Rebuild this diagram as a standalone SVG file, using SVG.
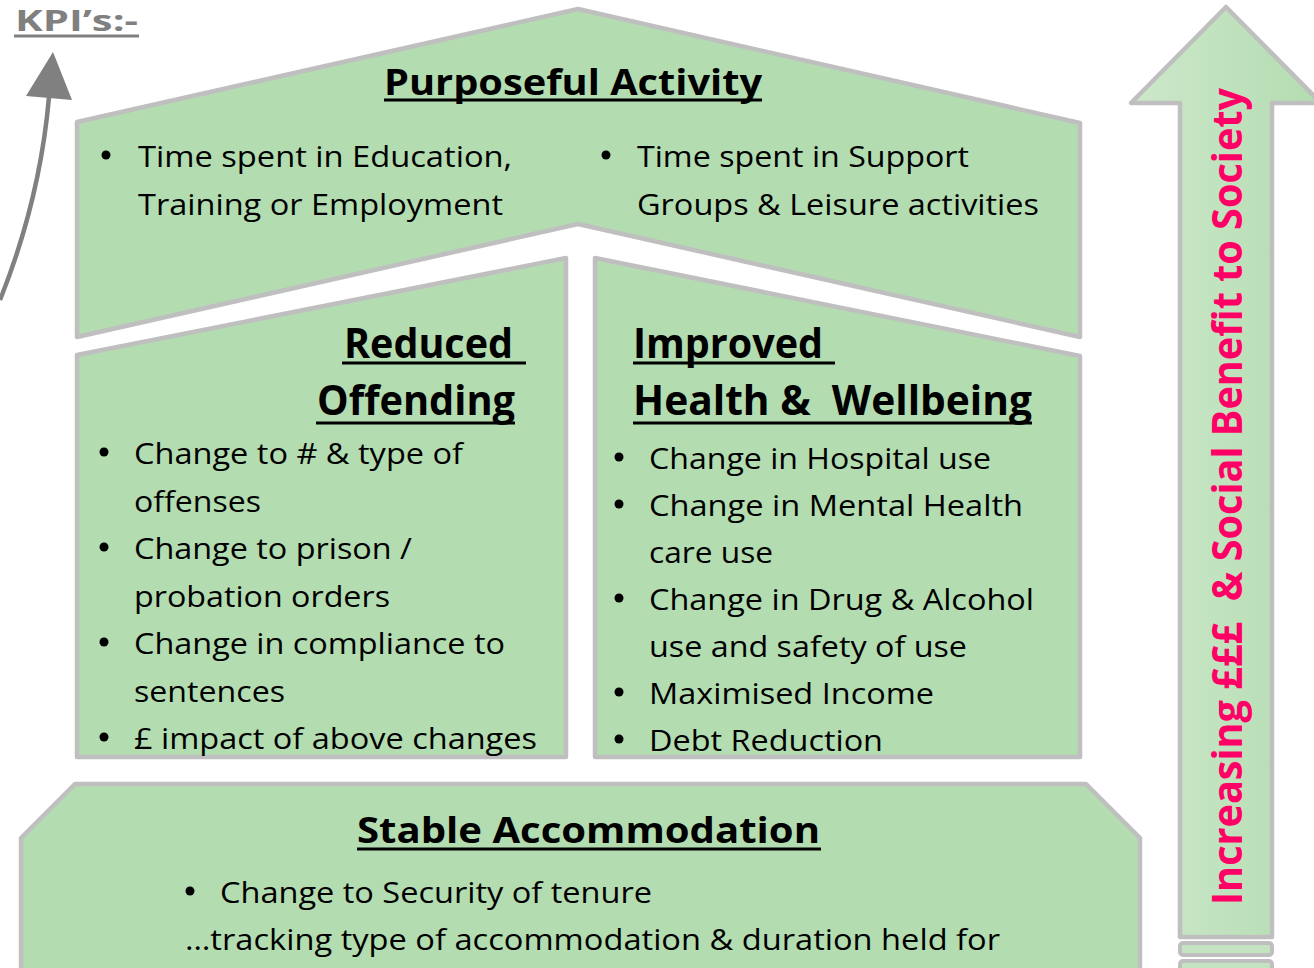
<svg xmlns="http://www.w3.org/2000/svg" width="1314" height="968" viewBox="0 0 1314 968">
<style>
.box{fill:#b3dcb1;stroke:#bfbfbf;stroke-width:4.5;stroke-linejoin:round}
.t{font-family:"Open Sans","Liberation Sans",sans-serif;font-size:30px;fill:#000}
.h{font-family:"Open Sans","Liberation Sans",sans-serif;font-weight:bold;fill:#000}
.ul{stroke:#000;stroke-width:3}
.dot{fill:#000}
</style>
<defs>
<linearGradient id="shaft" x1="0" y1="0" x2="1" y2="0">
<stop offset="0" stop-color="#cde8ca"/>
<stop offset="1" stop-color="#b3dcb1"/>
</linearGradient>
</defs>
<rect width="1314" height="968" fill="#fff"/>

<g id="kpi">
<text x="15" y="31" font-family="'Open Sans','Liberation Sans',sans-serif" font-weight="bold" font-size="29" fill="#808080" textLength="123" lengthAdjust="spacingAndGlyphs">KPI’s:-</text>
<line x1="14" y1="36" x2="139" y2="36" stroke="#808080" stroke-width="3"/>
</g>

<g id="connectors">
<path d="M0,300 Q40,200 49,97" fill="none" stroke="#808080" stroke-width="4.5"/>
<polygon points="53,52 26,96 72,100" fill="#808080"/>
</g>

<g id="purposeful-activity">
<polygon class="box" points="77,122 578,9 1080,123 1080,337 578,224 77,337"/>
<text class="h" x="384" y="95" font-size="35" textLength="378" lengthAdjust="spacingAndGlyphs">Purposeful Activity</text>
<line class="ul" x1="384" y1="100" x2="762" y2="100"/>
<circle class="dot" cx="106" cy="155" r="4.5"/>
<text class="t" x="138" y="167" textLength="374" lengthAdjust="spacingAndGlyphs">Time spent in Education,</text>
<text class="t" x="138" y="215" textLength="365" lengthAdjust="spacingAndGlyphs">Training or Employment</text>
<circle class="dot" cx="606" cy="155" r="4.5"/>
<text class="t" x="637" y="167" textLength="332" lengthAdjust="spacingAndGlyphs">Time spent in Support</text>
<text class="t" x="637" y="215" textLength="402" lengthAdjust="spacingAndGlyphs">Groups &amp; Leisure activities</text>
</g>

<g id="reduced-offending">
<polygon class="box" points="77,355 566,258 566,757 77,757"/>
<text class="h" x="344" y="358" font-size="42" textLength="169" lengthAdjust="spacingAndGlyphs">Reduced</text>
<line class="ul" x1="342" y1="363" x2="526" y2="363"/>
<text class="h" x="317" y="415" font-size="42" textLength="198" lengthAdjust="spacingAndGlyphs">Offending</text>
<line class="ul" x1="316" y1="423" x2="515" y2="423"/>
<circle class="dot" cx="104" cy="452" r="4.5"/>
<text class="t" x="134" y="464" textLength="329" lengthAdjust="spacingAndGlyphs">Change to # &amp; type of</text>
<text class="t" x="134" y="512" textLength="127" lengthAdjust="spacingAndGlyphs">offenses</text>
<circle class="dot" cx="104" cy="547" r="4.5"/>
<text class="t" x="134" y="559" textLength="278" lengthAdjust="spacingAndGlyphs">Change to prison /</text>
<text class="t" x="134" y="607" textLength="256" lengthAdjust="spacingAndGlyphs">probation orders</text>
<circle class="dot" cx="104" cy="642" r="4.5"/>
<text class="t" x="134" y="654" textLength="371" lengthAdjust="spacingAndGlyphs">Change in compliance to</text>
<text class="t" x="134" y="702" textLength="151" lengthAdjust="spacingAndGlyphs">sentences</text>
<circle class="dot" cx="104" cy="737" r="4.5"/>
<text class="t" x="134" y="749" textLength="403" lengthAdjust="spacingAndGlyphs">£ impact of above changes</text>
</g>

<g id="improved-health">
<polygon class="box" points="595,258 1080,356 1080,757 595,757"/>
<text class="h" x="633" y="358" font-size="42" textLength="190" lengthAdjust="spacingAndGlyphs">Improved</text>
<line class="ul" x1="633" y1="363" x2="835" y2="363"/>
<text class="h" x="633" y="415" font-size="42" textLength="399" lengthAdjust="spacingAndGlyphs" xml:space="preserve">Health &amp;  Wellbeing</text>
<line class="ul" x1="633" y1="423" x2="1032" y2="423"/>
<circle class="dot" cx="619" cy="457" r="4.5"/>
<text class="t" x="649" y="469" textLength="342" lengthAdjust="spacingAndGlyphs">Change in Hospital use</text>
<circle class="dot" cx="619" cy="504" r="4.5"/>
<text class="t" x="649" y="516" textLength="374" lengthAdjust="spacingAndGlyphs">Change in Mental Health</text>
<text class="t" x="649" y="563" textLength="124" lengthAdjust="spacingAndGlyphs">care use</text>
<circle class="dot" cx="619" cy="598" r="4.5"/>
<text class="t" x="649" y="610" textLength="385" lengthAdjust="spacingAndGlyphs">Change in Drug &amp; Alcohol</text>
<text class="t" x="649" y="657" textLength="318" lengthAdjust="spacingAndGlyphs">use and safety of use</text>
<circle class="dot" cx="619" cy="692" r="4.5"/>
<text class="t" x="649" y="704" textLength="285" lengthAdjust="spacingAndGlyphs">Maximised Income</text>
<circle class="dot" cx="619" cy="739" r="4.5"/>
<text class="t" x="649" y="751" textLength="234" lengthAdjust="spacingAndGlyphs">Debt Reduction</text>
</g>

<g id="stable-accommodation">
<polygon class="box" points="75,784 1086,784 1140,838 1140,980 21,980 21,838"/>
<text class="h" x="357" y="843" font-size="35" textLength="463" lengthAdjust="spacingAndGlyphs">Stable Accommodation</text>
<line class="ul" x1="357" y1="849" x2="821" y2="849"/>
<circle class="dot" cx="190" cy="891" r="4.5"/>
<text class="t" x="220" y="903" textLength="432" lengthAdjust="spacingAndGlyphs">Change to Security of tenure</text>
<text class="t" x="185" y="950" textLength="815" lengthAdjust="spacingAndGlyphs">…tracking type of accommodation &amp; duration held for</text>
</g>

<g id="benefit-arrow">
<polygon points="1226,7 1321,103 1272,103 1272,937 1180,937 1180,103 1131,103" fill="url(#shaft)" stroke="#bfbfbf" stroke-width="4.5" stroke-linejoin="round"/>
<rect x="1180" y="943" width="92" height="12" rx="3" fill="#c4e3c1" stroke="#bfbfbf" stroke-width="4"/>
<rect x="1180" y="961" width="92" height="16" rx="3" fill="#c4e3c1" stroke="#bfbfbf" stroke-width="4"/>
<text transform="translate(1242,905) rotate(-90)" x="0" y="0" font-family="'Open Sans','Liberation Sans',sans-serif" font-weight="bold" font-size="42" fill="#ff0066" textLength="817" lengthAdjust="spacingAndGlyphs" xml:space="preserve">Increasing £££  &amp; Social Benefit to Society</text>
</g>
</svg>
